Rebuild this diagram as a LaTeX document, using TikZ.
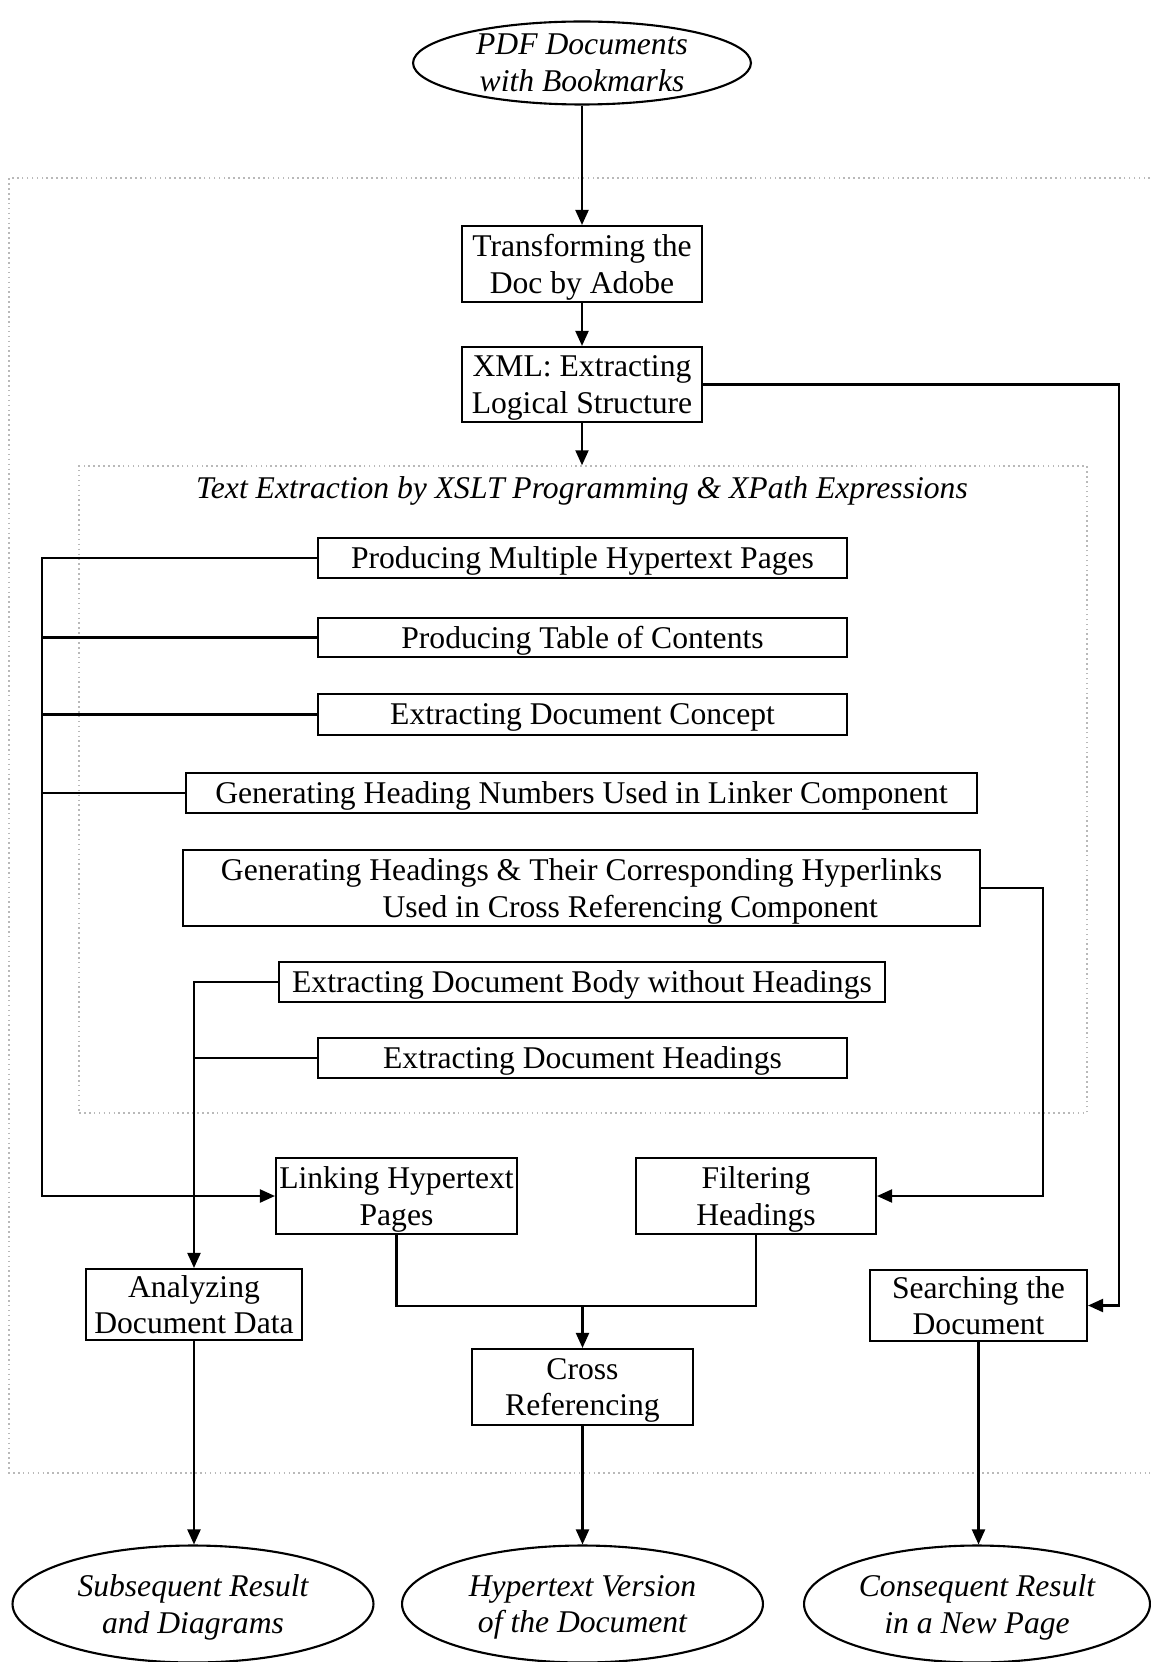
\documentclass[tikz,border=0pt]{standalone}
\usepackage{fontspec}
\setmainfont{Liberation Serif}
\usetikzlibrary{shapes.geometric, arrows.meta, positioning}
\usepackage{xcolor}
\definecolor{frameGray}{RGB}{185,185,185}

\begin{document}
\begin{tikzpicture}[
    x=0.02cm, y=-0.02cm,
    box/.style={rectangle, draw, line width=1.2pt, inner sep=0pt, align=center, text depth=0pt, font=\fontsize{18}{21}\selectfont},
    term/.style={ellipse, draw, line width=1.2pt, inner sep=0pt, align=center, text depth=0pt, font=\fontsize{18}{21}\selectfont\itshape},
    frame/.style={draw=frameGray, line width=0.9pt, dash pattern=on 0.9pt off 1.9pt},
    conn/.style={line width=1.2pt},
    >={Triangle[length=0.3cm, width=0.26cm]}
]
\useasboundingbox (0,0) rectangle (1150,1662);

\draw[frame] (1150,178) -- (9,178) -- (9,1473) -- (1150,1473);
\node[frame, rectangle, minimum width=20.16cm, minimum height=12.94cm, inner sep=0pt] (inner) at (583,789.5) {};
\node[font=\fontsize{18}{21}\selectfont\itshape, text depth=0pt] (title) at (582,488) {Text Extraction by XSLT Programming \& XPath Expressions};

\node[term, minimum width=6.76cm, minimum height=1.66cm] (src) at (582,63) {PDF Documents\\with Bookmarks};
\node[box, minimum width=4.8cm, minimum height=1.52cm] (trans) at (582,264) {Transforming the\\Doc by Adobe};
\node[box, minimum width=4.8cm, minimum height=1.5cm] (xml) at (582,384.5) {XML: Extracting\\Logical Structure};

\node[box, minimum width=10.58cm, minimum height=0.8cm] (pm) at (582.5,558) {Producing Multiple Hypertext Pages};
\node[box, minimum width=10.58cm, minimum height=0.78cm] (ptoc) at (582.5,637.5) {Producing Table of Contents};
\node[box, minimum width=10.58cm, minimum height=0.82cm] (concept) at (582.5,714.5) {Extracting Document Concept};
\node[box, minimum width=15.82cm, minimum height=0.8cm] (hnum) at (581.5,793) {Generating Heading Numbers Used in Linker Component};
\node[box, minimum width=15.94cm, minimum height=1.52cm] (hlinks) at (581.5,888) {Generating Headings \& Their Corresponding Hyperlinks\\\hspace*{1.95cm}Used in Cross Referencing Component};
\node[box, minimum width=12.12cm, minimum height=0.8cm] (body) at (582,982) {Extracting Document Body without Headings};
\node[box, minimum width=10.58cm, minimum height=0.8cm] (heads) at (582.5,1058) {Extracting Document Headings};

\node[box, minimum width=4.82cm, minimum height=1.52cm] (link) at (396.5,1196) {Linking Hypertext\\Pages};
\node[box, minimum width=4.8cm, minimum height=1.52cm] (filter) at (756,1196) {Filtering\\Headings};
\node[box, minimum width=4.32cm, minimum height=1.42cm] (analyze) at (194,1304.5) {Analyzing\\Document Data};
\node[box, minimum width=4.34cm, minimum height=1.42cm] (search) at (978.5,1305.5) {Searching the\\Document};
\node[box, minimum width=4.42cm, minimum height=1.52cm] (cross) at (582.5,1387) {Cross\\Referencing};

\node[term, minimum width=7.22cm, minimum height=2.34cm] (out1) at (193,1604) {Subsequent Result\\and Diagrams};
\node[term, minimum width=7.22cm, minimum height=2.34cm] (out2) at (582.5,1604) {Hypertext Version\\of the Document};
\node[term, minimum width=6.92cm, minimum height=2.34cm] (out3) at (977,1604) {Consequent Result\\in a New Page};

\coordinate (lbus) at (42,0);
\coordinate (rbus) at (1043,0);
\coordinate (rrbus) at (1119,0);
\coordinate (join) at (582.5,1306);

\draw[conn, ->] (src) -- (trans);
\draw[conn, ->] (trans) -- (xml);
\draw[conn, ->] (xml.south) -- (xml.south |- inner.north);

\draw[conn, ->] (pm.west) -- (pm.west -| lbus) |- (link.west);
\draw[conn] (ptoc.west) -- (ptoc.west -| lbus);
\draw[conn] (concept.west) -- (concept.west -| lbus);
\draw[conn] (hnum.west) -- (hnum.west -| lbus);

\draw[conn, ->] (body.west) -| (analyze.north);
\draw[conn] (heads.west) -- (heads.west -| analyze.north);

\draw[conn, ->] (hlinks.east) -- (hlinks.east -| rbus) |- (filter.east);
\draw[conn, ->] (xml.east) -- (xml.east -| rrbus) |- (search.east);

\draw[conn] (link.south) |- (join) -| (filter.south);
\draw[conn, ->] (join) -- (cross.north);

\draw[conn, ->] (analyze.south) -- (analyze.south |- out1.north);
\draw[conn, ->] (cross.south) -- (out2.north);
\draw[conn, ->] (search.south) -- (search.south |- out3.north);
\end{tikzpicture}
\end{document}
